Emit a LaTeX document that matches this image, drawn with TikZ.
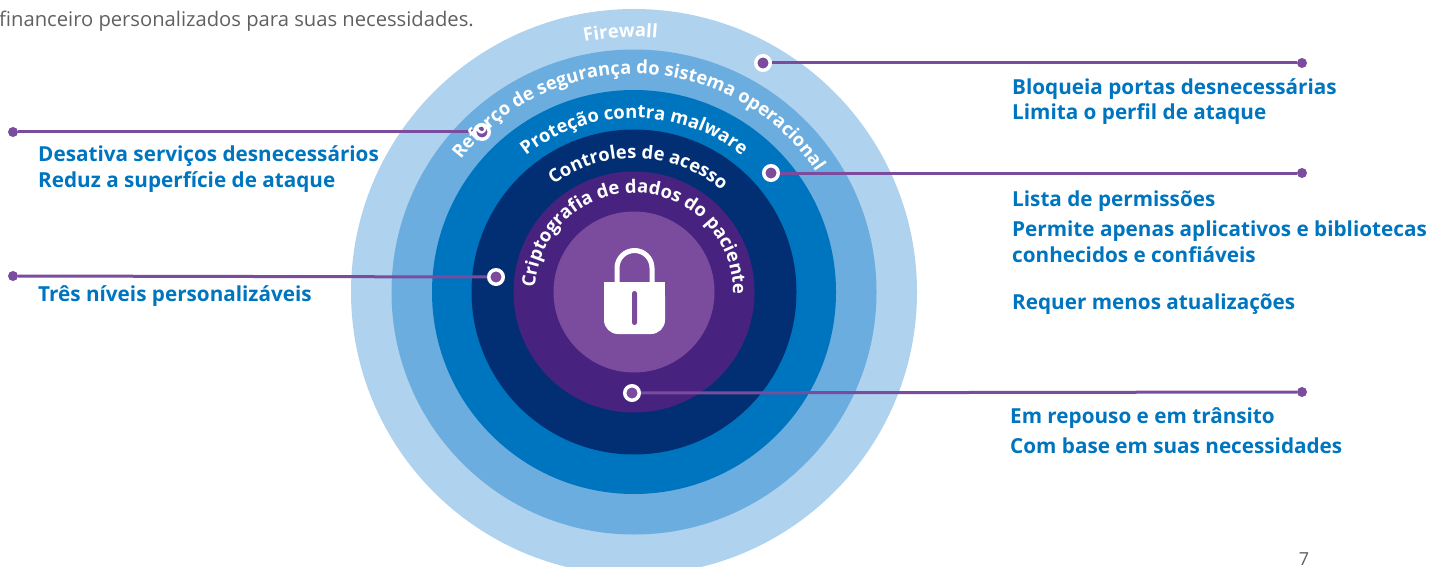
\documentclass[tikz,border=0pt]{standalone}
\usepackage{fontspec}
\setmainfont{Open Sans}
\usetikzlibrary{decorations.text}
\definecolor{ringa}{HTML}{AFD2EF}
\definecolor{ringb}{HTML}{6CADDF}
\definecolor{ringc}{HTML}{0075BF}
\definecolor{ringd}{HTML}{022F73}
\definecolor{ringe}{HTML}{47237F}
\definecolor{ringf}{HTML}{7B4B9E}
\definecolor{bodygrey}{HTML}{5F6062}
\newcommand{\ringfont}{\bfseries\fontsize{18.4}{18.4}\selectfont}
\tikzset{
  label/.style={anchor=base west,inner sep=0pt,text=ringc,font=\bfseries\fontsize{20.7}{24}\selectfont},
  marker/.style={circle,draw=white,fill=ringf,line width=3.5pt,minimum size=14.5pt,inner sep=0pt},
  enddot/.style={circle,fill=ringf,minimum size=10pt,inner sep=0pt},
  lead/.style={draw=ringf,line width=3pt},
  ringtext/.style={decorate,decoration={text along path,text align=center,text={|\color{white}\ringfont|#1}}}
}
\begin{document}
\begin{tikzpicture}[x=1pt,y=-1pt]
  \useasboundingbox (0,0) rectangle (1435,567);
  \clip (0,0) rectangle (1435,567);
  \coordinate (c) at (634,292);
  % rings
  \foreach \r/\col in {283/ringa,242.5/ringb,202/ringc,162.5/ringd,120.5/ringe,80.5/ringf}
    \fill[\col] (c) circle[radius=\r pt];
  % lock
  \draw[white,line width=5pt] (617,284) -- (617,268) arc[start angle=180,end angle=0,radius=17.5pt] -- (652,284);
  \fill[white,rounded corners=14pt] (604,282) -- (604,334) -- (665,334) -- (665,282) [sharp corners] -- cycle;
  \fill[white] (604,282) rectangle (665,300);
  \fill[ringf,rounded corners=2.4pt] (632,291) rectangle (637,325);
  % callouts
  \node[marker] (fw) at (763,63) {};
  \node[marker] (so) at (482,132) {};
  \node[marker] (mal) at (771,173) {};
  \node[marker] (ac) at (496,277) {};
  \node[marker] (pac) at (632,393) {};
  \node[enddot] (fwEnd) at (1302,63) {};
  \node[enddot] (soEnd) at (13,132) {};
  \node[enddot] (malEnd) at (1302,173) {};
  \node[enddot] (acEnd) at (13,276) {};
  \node[enddot] (pacEnd) at (1302,392) {};
  \draw[lead] (fw) -- (fwEnd);
  \draw[lead] (so) -- (soEnd);
  \draw[lead] (mal) -- (malEnd);
  \draw[lead] (ac) -- (acEnd);
  \draw[lead] (pac) -- (pacEnd);
  % ring names
  \path[ringtext={Firewall}] (c) ++(123:255pt) arc[start angle=123,end angle=63,radius=255pt];
  \path[ringtext={Reforço de segurança do sistema operacional}] (c) ++(178:218pt) arc[start angle=178,end angle=-2,radius=218pt];
  \path[ringtext={Proteção contra malware}] (c) ++(170:174pt) arc[start angle=170,end angle=10,radius=174pt];
  \path[ringtext={Controles de acesso}] (c) ++(169:134pt) arc[start angle=169,end angle=7,radius=134pt];
  \path[ringtext={Criptografia de dados do paciente}] (c) ++(188:99pt) arc[start angle=188,end angle=-12,radius=99pt];
  % texts
  \node[anchor=base west,inner sep=0pt,text=bodygrey,font=\fontsize{20.2}{24}\selectfont] (intro) at (-1,27) {financeiro personalizados para suas necessidades.};
  \node[label] (fwA) at (1012,95) {Bloqueia portas desnecessárias};
  \node[label] (fwB) at (1012,120) {Limita o perfil de ataque};
  \node[label] (soA) at (38,161) {Desativa serviços desnecessários};
  \node[label] (soB) at (38,187) {Reduz a superfície de ataque};
  \node[label] (malA) at (1012,206) {Lista de permissões};
  \node[label] (malB) at (1012,236) {Permite apenas aplicativos e bibliotecas};
  \node[label] (malC) at (1012,262) {conhecidos e confiáveis};
  \node[label] (malD) at (1012,309) {Requer menos atualizações};
  \node[label] (acA) at (38,301) {Três níveis personalizáveis};
  \node[label] (pacA) at (1010,423) {Em repouso e em trânsito};
  \node[label] (pacB) at (1010,453) {Com base em suas necessidades};
  \node[anchor=base,inner sep=0pt,text=bodygrey,font=\fontsize{18}{20}\selectfont] (pg) at (1304,565) {7};
\end{tikzpicture}
\end{document}
